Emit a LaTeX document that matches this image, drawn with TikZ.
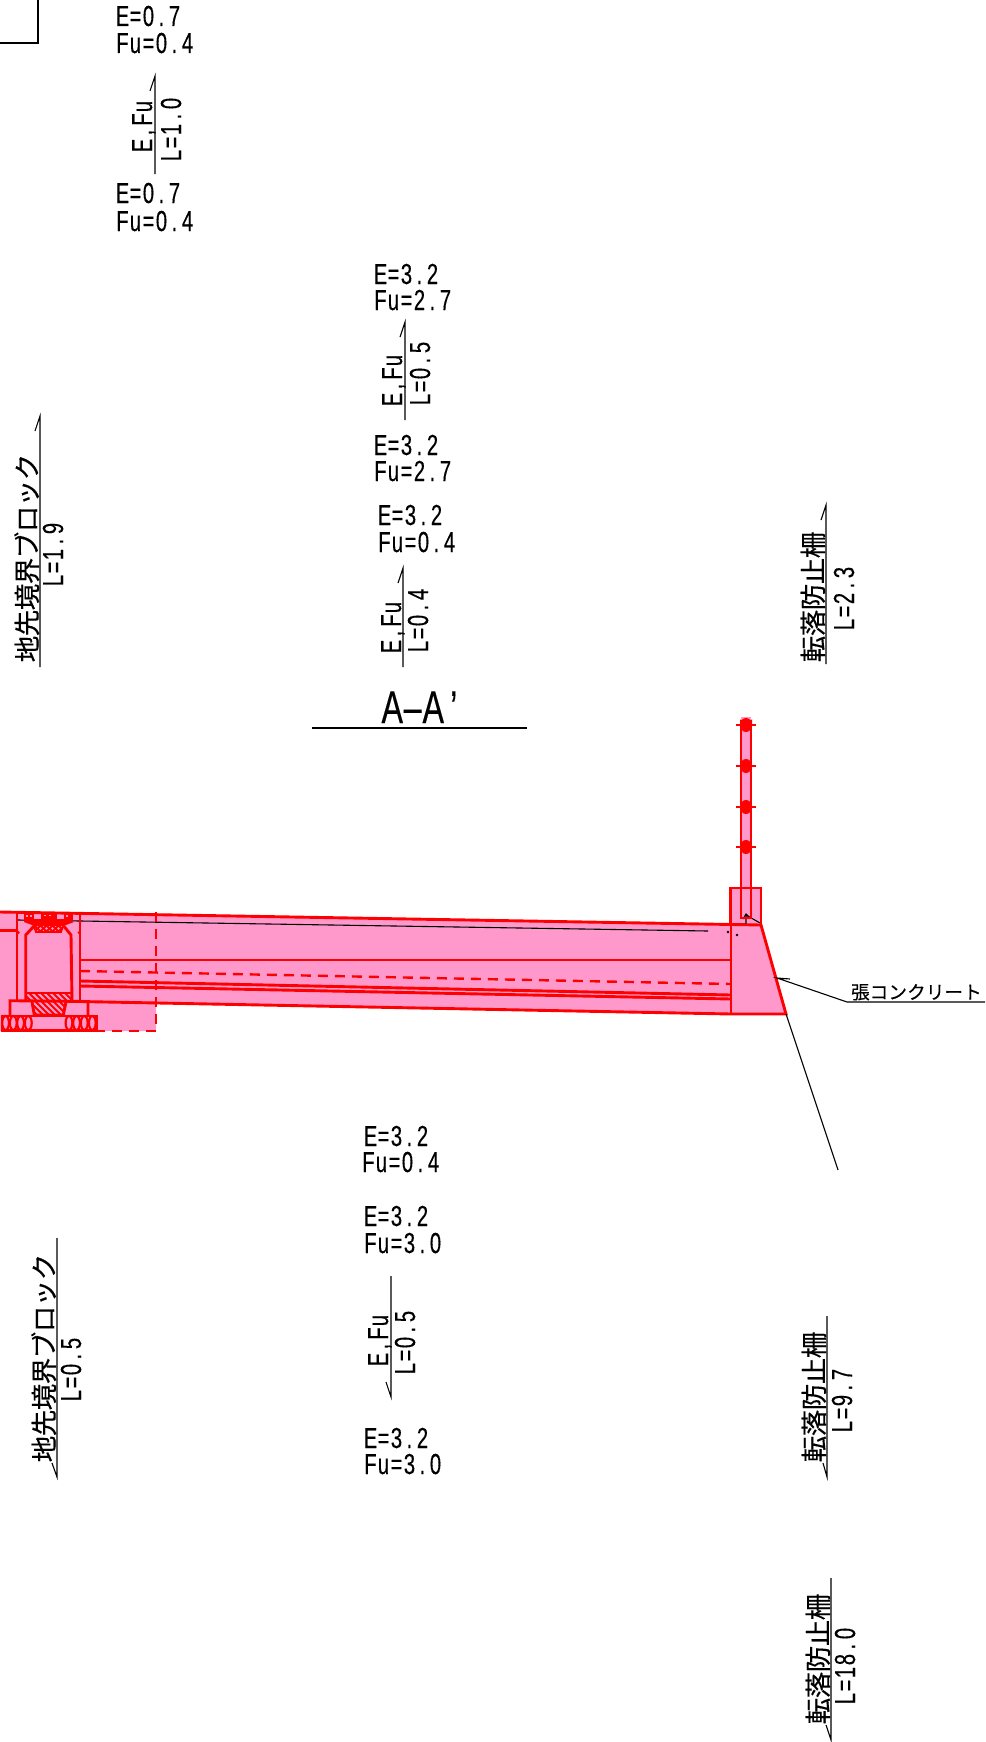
\documentclass[tikz,border=0pt]{standalone}
\usepackage{fontspec}
\setmainfont{Liberation Sans}
\newfontfamily\latf[FakeStretch=0.7,FakeBold=0.25]{Liberation Sans}
\newfontfamily\jpf[FakeBold=0.35]{Noto Sans CJK JP}
\newdimen\cellw
\def\cellrun#1{\ifx#1\relax\else\makebox[\cellw][c]{#1}\expandafter\cellrun\fi}
\newcommand{\lattext}[1]{\cellw=13pt\latf\fontsize{29pt}{29pt}\selectfont\cellrun#1\relax}
\newcommand{\jptext}[1]{\cellw=26pt\jpf\fontsize{26.5pt}{26.5pt}\selectfont\cellrun#1\relax}
\definecolor{fillpink}{HTML}{FF99CC}
\definecolor{linered}{HTML}{FF0000}
\tikzset{
  lbl/.style={anchor=base west,inner sep=0pt,outer sep=0pt},
  vlbl/.style={lbl,rotate=90},
  thin black/.style={draw=black,line width=1.1pt},
  redline/.style={draw=linered,line width=2.9pt},
  redthin/.style={draw=linered,line width=1.8pt},
  reddash/.style={draw=linered,line width=2.4pt,dash pattern=on 10pt off 7pt}
}
\begin{document}
\begin{tikzpicture}[x=1pt,y=-1pt]
\useasboundingbox (0,0) rectangle (985,1742);
\fill[white] (0,0) rectangle (985,1742);
\begin{scope}
\clip (0,0) rectangle (985,1742);
% top-left frame
\draw[thin black] (38,0) -- (38,43) -- (0,43);
% pink body
\fill[fillpink] (0,912) -- (761,925) -- (786,1014) -- (731,1014) -- (156,1002.5) -- (156,1031) -- (0,1031) -- cycle;
\fill[fillpink] (741,717) rectangle (751,918);
\fill[fillpink] (730,888) rectangle (761,925);
% black leaders and lines inside
\draw[thin black] (18,920) -- (708,931);
\draw[thin black] (731,924) -- (746,924) -- (746,915) -- (760,923);
\draw[thin black] (743,919) -- (746,914) -- (749,917);
\fill (728,932) circle (1.4);
\fill (737,935) circle (1.4);
% dashed
\draw[reddash] (156,912) -- (156,1031);
\draw[reddash] (156,1031) -- (97,1031);
\draw[reddash] (80,971) -- (731,984);
% slab
\draw[redline,line join=miter] (0,912) -- (761,925) -- (786,1014) -- (731,1014) -- (80,1001.5);
\draw[redline] (731,888) -- (731,1014);
\draw[redline] (80,960) -- (731,960);
\draw[redline] (80,981) -- (731,995);
\draw[redline] (80,986) -- (731,999);
% post
\draw[redline] (730,925) -- (730,888) -- (761,888) -- (761,925);
\draw[redline] (741,720) -- (741,918) -- (751,918) -- (751,720);
\fill[linered] (740,725) -- (740,719) arc[start angle=180,end angle=0,x radius=6,y radius=4] -- (752,725) -- cycle;
\foreach \py in {725,766,807,847}{
  \draw[redline] (736,\py) -- (756,\py);
  \fill[linered] (746,\py) ellipse [x radius=6,y radius=7];
}
% left section
\draw[redline] (17,912) -- (17,1000);
\draw[redline] (80,912) -- (80,1001);
\draw[redline] (0,930.5) -- (17,930.5);
\draw[redline] (35,925) -- (25.7,935) -- (25.7,1000);
\draw[redline] (63,925) -- (71,935) -- (72,1000);
\draw[redline] (10,1016) -- (10,1000.7) -- (88,1001.5) -- (88,1016);
\draw[redline] (2,1016) rectangle (96.5,1030.5);
\begin{scope}
\clip (26,993) rectangle (72,1000);
\foreach \k in {0,6,...,72}{\draw[redthin] (20+\k,990) -- (32+\k,1002);}
\end{scope}
\draw[redline] (26,993) -- (72,993);
\begin{scope}
\clip (32,1001.7) -- (66,1001.7) -- (63.3,1015) -- (34.3,1015) -- cycle;
\foreach \k in {-18,-12,...,48}{\draw[redthin] (20+\k,998) -- (40+\k,1018);}
\end{scope}
\draw[redline] (32,1001.7) -- (34.3,1015) -- (63.3,1015) -- (66,1001.7);
\foreach \ex in {5.6,13.3,20.6,28.3,69,76.6,84.3,92.3}{
  \filldraw[fill=fillpink,draw=linered,line width=2.2pt] (\ex,1023) ellipse [x radius=3.4,y radius=7];
}
% top block of section
\fill[linered] (23.5,912.5) rectangle (34,922);
\fill[linered] (23.5,919) rectangle (73,922);
\fill[linered] (41,913) rectangle (57,920);
\fill[linered] (63.5,913) rectangle (73,922);
\fill[linered] (24,922) -- (74,922) -- (66,925) -- (32,925) -- cycle;
\fill[fillpink] (26,915) rectangle (28,917);
\fill[fillpink] (30,915) rectangle (32,917);
\fill[fillpink] (44,914.5) rectangle (46,916);
\fill[fillpink] (49,914.5) rectangle (51,916);
\fill[fillpink] (66,915) rectangle (68,917);
\draw[redthin] (33.5,925) -- (36,932) -- (61,932) -- (63.5,925) -- cycle;
\begin{scope}
\clip (33.5,925) -- (36,932) -- (61,932) -- (63.5,925) -- cycle;
\foreach \k in {0,6,...,36}{
  \draw[redthin] (28+\k,925) -- (35+\k,932);
  \draw[redthin] (35+\k,925) -- (28+\k,932);
}
\end{scope}
\fill[linered] (18,932.5) circle (1.8);
\fill[linered] (79.3,932.5) circle (1.8);
% leaders
\draw[thin black] (790,979) -- (777,978) -- (847,1002) -- (985,1002);
\draw[thin black] (786,1014) -- (838,1170);
\node[lbl] (hari) at (851,999) {\cellw=18.7pt\jpf\fontsize{18.5pt}{18.5pt}\selectfont\cellrun 張コンクリート\relax};
% dimension lines
\draw[thin black] (150,91) -- (155,76) -- (155,174);
\draw[thin black] (400,337) -- (405,322) -- (405,420);
\draw[thin black] (398,583) -- (403,568) -- (403,667);
\draw[thin black] (35,431) -- (40,416) -- (40,667);
\draw[thin black] (821,520) -- (826,505) -- (826,664);
\draw[thin black] (386,1382) -- (391,1397) -- (391,1276);
\draw[thin black] (52,1463) -- (57,1477) -- (57,1238);
\draw[thin black] (823,1463) -- (827,1477) -- (827,1316);
\draw[thin black] (826,1725) -- (831,1740) -- (831,1578);
\draw[thin black] (312,728) -- (527,728);
\end{scope}
% horizontal labels
\node[lbl] (a1) at (116,26) {\lattext{E=0.7}};
\node[lbl] (a2) at (116,53) {\lattext{Fu=0.4}};
\node[lbl] (a3) at (116,203) {\lattext{E=0.7}};
\node[lbl] (a4) at (116,231) {\lattext{Fu=0.4}};
\node[lbl] (b1) at (374,284) {\lattext{E=3.2}};
\node[lbl] (b2) at (374,310) {\lattext{Fu=2.7}};
\node[lbl] (b3) at (374,455) {\lattext{E=3.2}};
\node[lbl] (b4) at (374,481) {\lattext{Fu=2.7}};
\node[lbl] (c1) at (378,525) {\lattext{E=3.2}};
\node[lbl] (c2) at (378,552) {\lattext{Fu=0.4}};
\node[lbl] (d1) at (364,1146) {\lattext{E=3.2}};
\node[lbl] (d2) at (362,1172) {\lattext{Fu=0.4}};
\node[lbl] (d3) at (364,1226) {\lattext{E=3.2}};
\node[lbl] (d4) at (364,1253) {\lattext{Fu=3.0}};
\node[lbl] (d5) at (364,1448) {\lattext{E=3.2}};
\node[lbl] (d6) at (364,1474) {\lattext{Fu=3.0}};
\node[lbl] (title) at (382,723) {\cellw=20.5pt\latf\fontsize{46pt}{46pt}\selectfont\cellrun A–A’\relax};
% rotated labels
\node[vlbl] (r1) at (152,152) {\lattext{E,Fu}};
\node[vlbl] (r2) at (181,162) {\lattext{L=1.0}};
\node[vlbl] (r3) at (402,406) {\lattext{E,Fu}};
\node[vlbl] (r4) at (430,406) {\lattext{L=0.5}};
\node[vlbl] (r5) at (401,653) {\lattext{E,Fu}};
\node[vlbl] (r6) at (428,653) {\lattext{L=0.4}};
\node[vlbl] (r7) at (388,1366) {\lattext{E,Fu}};
\node[vlbl] (r8) at (415,1375) {\lattext{L=0.5}};
\node[vlbl] (j1) at (37,662) {\jptext{地先境界ブロック}};
\node[vlbl] (l1) at (63,587) {\lattext{L=1.9}};
\node[vlbl] (j2) at (54,1462) {\jptext{地先境界ブロック}};
\node[vlbl] (l2) at (81,1402) {\lattext{L=0.5}};
\node[vlbl] (j3) at (823,662) {\jptext{転落防止柵}};
\node[vlbl] (l3) at (854,631) {\lattext{L=2.3}};
\node[vlbl] (j4) at (824,1462) {\jptext{転落防止柵}};
\node[vlbl] (l4) at (852,1433) {\lattext{L=9.7}};
\node[vlbl] (j5) at (828,1724) {\jptext{転落防止柵}};
\node[vlbl] (l5) at (855,1705) {\lattext{L=18.0}};
\end{tikzpicture}
\end{document}
